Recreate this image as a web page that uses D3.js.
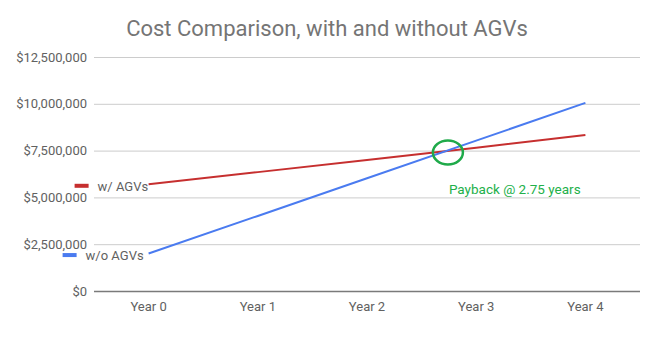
<!DOCTYPE html>
<html>
<head>
<meta charset="utf-8">
<script src="https://cdn.jsdelivr.net/npm/d3@7"></script>
<style>
  body { margin: 0; background: #fff; }
  text { font-family: Roboto, sans-serif; }
</style>
</head>
<body>
<script>
  var years = ['Year 0', 'Year 1', 'Year 2', 'Year 3', 'Year 4']
  var withAgvs = [5700000, 6350000, 7000000, 7650000, 8330000]
  var withoutAgvs = [2000000, 4010000, 6020000, 8030000, 10050000]
  var yTicks = [0, 2500000, 5000000, 7500000, 10000000, 12500000]
  var seriesNames = ['w/ AGVs', 'w/o AGVs']
  var payback = 2.75
  var paybackLabel = 'Payback @ 2.75 years'

  var W = 657
  var H = 352
  var margin = { left: 94, right: 17, top: 57, bottom: 61 }

  var svg = d3.select('body').append('svg')
    .attr('width', W)
    .attr('height', H)

  var x = d3.scaleBand().domain(years)
    .range([margin.left, W - margin.right]).padding(0)
  var y = d3.scaleLinear().domain([0, 12500000])
    .range([H - margin.bottom, margin.top])

  var cx = function (i) { return x(years[i]) + x.bandwidth() / 2 }
  var money = d3.format('$,')

  // Title
  svg.append('text')
    .attr('x', 327).attr('y', 36)
    .attr('text-anchor', 'middle')
    .attr('font-size', 22)
    .attr('fill', '#757575')
    .text('Cost Comparison, with and without AGVs')

  // Grid
  var yAxis = d3.axisLeft(y).tickValues(yTicks)
    .tickSize(-(W - margin.left - margin.right))
    .tickPadding(7)
    .tickFormat(money)

  svg.append('g')
    .attr('transform', 'translate(' + margin.left + ',0)')
    .call(yAxis)
    .call(function (g) {
      g.select('.domain').remove()
      g.selectAll('.tick line')
        .attr('stroke', function (d) { return d === 0 ? '#7a7a7a' : '#cccccc' })
        .attr('stroke-width', function (d) { return d === 0 ? 1.5 : 1 })
      g.selectAll('.tick text')
        .attr('font-size', 13)
        .attr('fill', '#616161')
    })

  var xAxis = d3.axisBottom(x).tickSize(0).tickPadding(11)
  svg.append('g')
    .attr('transform', 'translate(0,' + (H - margin.bottom) + ')')
    .call(xAxis)
    .call(function (g) {
      g.select('.domain').remove()
      g.selectAll('.tick text')
        .attr('font-size', 13)
        .attr('fill', '#616161')
    })

  // Lines
  var line = d3.line()
    .x(function (d, i) { return cx(i) })
    .y(function (d) { return y(d) })

  // labels sit just left of each line's first point
  var series = [
    { name: seriesNames[0], values: withAgvs, color: '#c62f2f', off: 74 },
    { name: seriesNames[1], values: withoutAgvs, color: '#4a7bf0', off: 86 }
  ]

  series.forEach(function (s) {
    svg.append('path')
      .datum(s.values)
      .attr('fill', 'none')
      .attr('stroke', s.color)
      .attr('stroke-width', 2)
      .attr('d', line)

    var ly = y(s.values[0]) + 1.5
    var sx = cx(0) - s.off
    svg.append('rect')
      .attr('x', sx).attr('y', ly - 2)
      .attr('width', 14).attr('height', 4)
      .attr('fill', s.color)
    svg.append('text')
      .attr('x', sx + 23).attr('y', ly + 5)
      .attr('font-size', 13)
      .attr('fill', '#616161')
      .text(s.name)
  })

  // Payback marker
  var step = cx(1) - cx(0)
  var px = cx(0) + payback * step
  var py = y(withAgvs[0] + (withAgvs[4] - withAgvs[0]) / 4 * payback)

  svg.append('ellipse')
    .attr('cx', px - 1).attr('cy', py + 2)
    .attr('rx', 15).attr('ry', 12)
    .attr('fill', 'none')
    .attr('stroke', '#1faa4a')
    .attr('stroke-width', 2.5)

  svg.append('text')
    .attr('x', px).attr('y', 194)
    .attr('font-family', 'Carlito, "Open Sans", sans-serif')
    .attr('font-size', 13.5)
    .attr('fill', '#22b04a')
    .text(paybackLabel)
</script>
</body>
</html>
